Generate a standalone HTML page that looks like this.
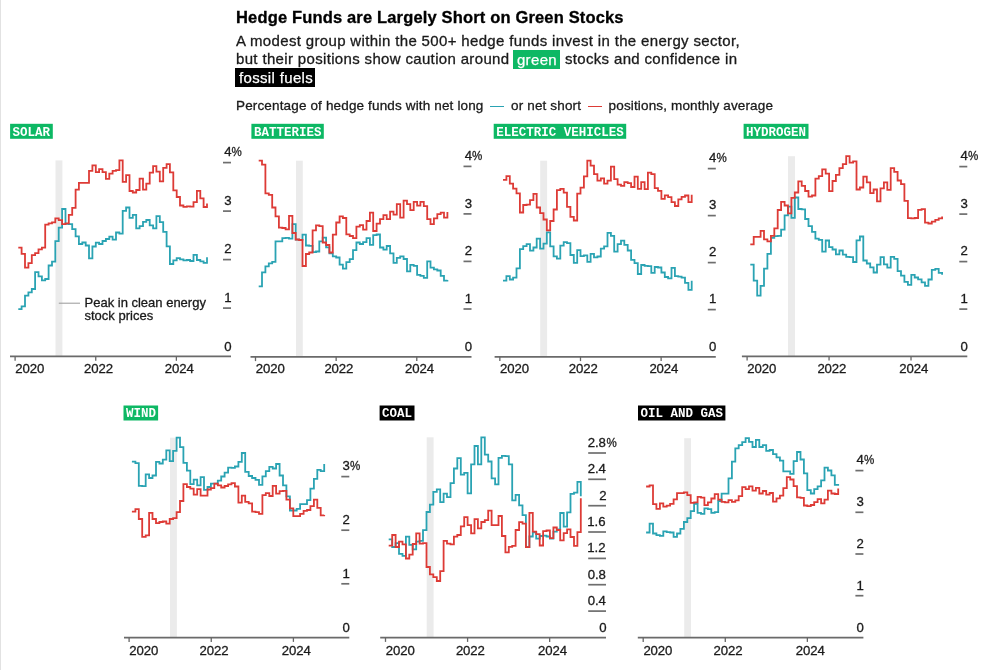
<!DOCTYPE html>
<html lang="en"><head><meta charset="utf-8"><title>Hedge Funds are Largely Short on Green Stocks</title>
<style>
html,body{margin:0;padding:0;background:#fff;}
body{width:986px;height:670px;overflow:hidden;position:relative;font-family:"Liberation Sans",sans-serif;color:#1a1a1a;}
#edge{position:absolute;left:0;top:0;width:1px;height:670px;background:#e2e2e2;}
h1{position:absolute;left:236px;top:6.8px;margin:0;font-size:16.5px;line-height:20px;font-weight:bold;letter-spacing:0.16px;-webkit-text-stroke:0.3px #000;white-space:nowrap;color:#000;}
.sub{position:absolute;left:236px;top:32px;margin:0;font-size:15px;line-height:18.3px;letter-spacing:0.34px;-webkit-text-stroke:0.3px #1a1a1a;white-space:nowrap;color:#1a1a1a;}
.sub .g{-webkit-text-stroke:0.25px #fff;background:#0DB864;color:#fff;padding:0.6px 3.4px 1.9px 3.6px;margin-left:-0.6px;}
.sub .k{-webkit-text-stroke:0.25px #fff;background:#000;color:#fff;padding:0.5px 2.2px 1.5px 4px;margin-left:-1px;}
.leg{position:absolute;left:236px;top:98px;margin:0;font-size:13.5px;line-height:16px;letter-spacing:0.15px;-webkit-text-stroke:0.3px #1a1a1a;white-space:nowrap;color:#1a1a1a;}
.leg i{display:inline-block;width:14.3px;height:0;border-top:1.6px solid;vertical-align:middle;margin:0 2.8px -0.5px 2.6px;}
svg{position:absolute;left:0;top:0;}
svg text{font-family:"Liberation Sans",sans-serif;fill:#1a1a1a;}
.xl,.yl{font-size:13.2px;letter-spacing:-0.1px;stroke:#1a1a1a;stroke-width:0.3px;}
.an{font-size:13px;stroke:#1a1a1a;stroke-width:0.3px;}
.tag{font-family:"Liberation Mono","DejaVu Sans Mono",monospace;font-weight:bold;font-size:12.5px;fill:#fff;}
</style></head><body>
<div id="edge"></div>
<h1>Hedge Funds are Largely Short on Green Stocks</h1>
<p class="sub">A modest group within the 500+ hedge funds invest in the energy sector,<br>but their positions show caution around <span class="g">green</span> stocks and confidence in<br><span class="k">fossil fuels</span></p>
<p class="leg">Percentage of hedge funds with net long <i style="border-color:#2AA3B3"></i> or net short <i style="border-color:#DD3B36"></i> positions, monthly average</p>
<svg width="986" height="670" viewBox="0 0 986 670">
<g>
<rect x="55.5" y="160.4" width="6.9" height="196" fill="#ebebeb"/>
<path d="M18.3,309.1H21.6V306.4H25V295.7H28.4V292.4H31.8V289H35.1V272.2H38.5V276.3H41.9V280.4H45.2V279H48.6V265.5H52V261.6H55.3V241.2H58.7V227.6H62.1V209H65.5V223.9H68.8V224.2H72.2V229.1H75.6V236.3H78.9V244H82.3V242.5H85.7V245.5H89V258.4H92.4V246.5H95.8V242.7H99.1V244H102.5V241H105.9V239H109.3V236.6H112.6V239.6H116V232.5H119.4V233.6H122.7V210.9H126.1V207.5H129.5V217.9H132.8V214.9H136.2V228.4H139.6V226.1H143V221.8H146.3V220H149.7V225.3H153.1V228.3H156.4V216.2H159.8V222.2H163.2V231.9H166.6V246.4H169.9V264H173.3V260.3H176.7V258.1H180V259.3H183.4V260.3H186.8V260H190.1V261H193.5V254.8H196.9V260H200.3V261.3H203.6V262.8H207V257.3" fill="none" stroke="#2AA3B3" stroke-width="1.8"/>
<path d="M18.3,247.6H21.6V253.9H25V267.6H28.4V263.1H31.8V255.1H35.1V253.1H38.5V249.4H41.9V247.6H45.2V224.6H48.6V223.4H52V222.4H55.3V218.4H58.7V220.1H62.1V224.2H65.5V223.4H68.8V214.9H72.2V207.9H75.6V189.6H78.9V182.8H82.3H85.7H89V170.9H92.4V165.4H95.8V172.1H99.1V169.1H102.5V172.1H105.9V178.9H109.3V173.6H112.6V170.9H116V170.1H119.4V160.4H122.7V181.8H126.1V175.1H129.5V191H132.8V192.5H136.2V190H139.6V178.7H143V189.6H146.3V183.6H149.7V172.7H153.1V166.1H156.4V171.6H159.8V181.3H163.2V167.9H166.6V164.2H169.9V172.3H173.3V190.3H176.7V197H180V205.5H183.4V206.9H186.8V206.3H190.1V206.6H193.5V202.1H196.9V190.9H200.3V198.4H203.6V207H207V203.6" fill="none" stroke="#DD3B36" stroke-width="1.8"/>
<path d="M10,356.45H231" stroke="#6a6a6a" stroke-width="1.8" fill="none"/>
<path d="M15.10,356.4V360.8" stroke="#666" stroke-width="1.3" fill="none"/>
<text x="15.3" y="372.8" class="xl">2020</text>
<path d="M95.74,356.4V360.8" stroke="#666" stroke-width="1.3" fill="none"/>
<text x="84" y="372.8" class="xl">2022</text>
<path d="M176.38,356.4V360.8" stroke="#666" stroke-width="1.3" fill="none"/>
<text x="164.7" y="372.8" class="xl">2024</text>
<path d="M223,162.60H231" stroke="#6e6e6e" stroke-width="1.7" fill="none"/>
<text x="231.4" y="156.4" class="yl" text-anchor="end">4</text><text x="231.6" y="156.4" class="yl" textLength="10.2" lengthAdjust="spacingAndGlyphs">%</text>
<path d="M223,211.10H231" stroke="#6e6e6e" stroke-width="1.7" fill="none"/>
<text x="231.4" y="204.9" class="yl" text-anchor="end">3</text>
<path d="M223,259.60H231" stroke="#6e6e6e" stroke-width="1.7" fill="none"/>
<text x="231.4" y="253.4" class="yl" text-anchor="end">2</text>
<path d="M223,308.10H231" stroke="#6e6e6e" stroke-width="1.7" fill="none"/>
<text x="231.4" y="301.9" class="yl" text-anchor="end">1</text>
<text x="231.4" y="350.6" class="yl" text-anchor="end">0</text>
<rect x="10.1" y="123.8" width="42.7" height="15" fill="#0DB864"/>
<text x="12.6" y="135.7" class="tag">SOLAR</text>
</g>
<g>
<rect x="296" y="160.7" width="6.8" height="196.1" fill="#ebebeb"/>
<path d="M258.7,286.4H262V272.4H265.4V266.4H268.8V263.4H272.2V261.9H275.5V241.3H278.9H282.3V238.1H285.6V237.8H289V238.7H292.4V224.2H295.7V239.7H299.1V239.9H302.5V234.6H305.9V245.5H309.2V245.8H312.6V252.1H316V251.5H319.3V241.3H322.7V237.6H326.1V247.3H329.4V253.3H332.8V256.3H336.2V257.5H339.6V264.7H342.9V268.7H346.3V262.2H349.7V259.2H353V250.1H356.4V242.5H359.8V244H363.1V242.2H366.5V238.1H369.9V244.9H373.2V235.1H376.6V234.5H380V247.5H383.4V249.7H386.7V246H390.1V253.4H393.5V262.8H396.8V257.9H400.2V256.4H403.6V259H407V271.3H410.3V264.8H413.7V265.8H417.1V274.8H420.4V275.8H423.8V277.8H427.2V261.3H430.5V267.6H433.9V269.4H437.3V270.5H440.7V275.8H444V280.7H447.4V280" fill="none" stroke="#2AA3B3" stroke-width="1.8"/>
<path d="M258.7,160.7H262V164.6H265.4V193.3H268.8V194.8H272.2V207.5H275.5V216.4H278.9V227.6H282.3V228H285.6V229.3H289V215.8H292.4V233H295.7V239.5H299.1V240H302.5V266H305.9V254H309.2V252.5H312.6V230.3H316V225.3H319.3V226.1H322.7V242.5H326.1V245H329.4V252.5H332.8V234.7H336.2V222.5H339.6V216.4H342.9V218H346.3V234.4H349.7V236H353V238.1H356.4V226.6H359.8V225.1H363.1V229.6H366.5V221H369.9V212.7H373.2V231H376.6V223.6H380V219.1H383.4V215.1H386.7V219.1H390.1V211.6H393.5V214.6H396.8V204.2H400.2V217.6H403.6V200.7H407V204.2H410.3V210.1H413.7V201.9H417.1V205.7H420.4V201.9H423.8V206.1H427.2V219.1H430.5V224.2H433.9V218.4H437.3V214.1H440.7V212.7H444V217.6H447.4V212.1" fill="none" stroke="#DD3B36" stroke-width="1.8"/>
<path d="M250.5,356.80H471.5" stroke="#6a6a6a" stroke-width="1.8" fill="none"/>
<path d="M255.50,356.8V361.1" stroke="#666" stroke-width="1.3" fill="none"/>
<text x="255.7" y="372.8" class="xl">2020</text>
<path d="M336.14,356.8V361.1" stroke="#666" stroke-width="1.3" fill="none"/>
<text x="324.4" y="372.8" class="xl">2022</text>
<path d="M416.78,356.8V361.1" stroke="#666" stroke-width="1.3" fill="none"/>
<text x="405.1" y="372.8" class="xl">2024</text>
<path d="M463.5,166.40H471.5" stroke="#6e6e6e" stroke-width="1.7" fill="none"/>
<text x="471.9" y="160.2" class="yl" text-anchor="end">4</text><text x="472.1" y="160.2" class="yl" textLength="10.2" lengthAdjust="spacingAndGlyphs">%</text>
<path d="M463.5,213.90H471.5" stroke="#6e6e6e" stroke-width="1.7" fill="none"/>
<text x="471.9" y="207.7" class="yl" text-anchor="end">3</text>
<path d="M463.5,261.40H471.5" stroke="#6e6e6e" stroke-width="1.7" fill="none"/>
<text x="471.9" y="255.2" class="yl" text-anchor="end">2</text>
<path d="M463.5,309.00H471.5" stroke="#6e6e6e" stroke-width="1.7" fill="none"/>
<text x="471.9" y="302.8" class="yl" text-anchor="end">1</text>
<text x="471.9" y="351" class="yl" text-anchor="end">0</text>
<rect x="251.4" y="123.8" width="72.4" height="15" fill="#0DB864"/>
<text x="253.9" y="135.7" class="tag">BATTERIES</text>
</g>
<g>
<rect x="540.2" y="160.7" width="6.9" height="196.1" fill="#ebebeb"/>
<path d="M503,280.7H506.4V276.2H509.8V279.5H513.1V277.7H516.5V268.4H519.9V249.1H523.2V246.1H526.6V244.1H530V250.6H533.4V247.5H536.7V238.7H540.1V248.6H543.5V243.6H546.8V232.3H550.2V246.3H553.6V256.4H556.9V258.6H560.3V245.6H563.7V242.2H567V243.2H570.4V255H573.8V262.8H577.2V250.2H580.5V256.1H583.9V255.3H587.3V261.8H590.6V253.9H594V257.3H597.4V256.5H600.8V248.6H604.1V246.3H607.5V232.9H610.9V235.9H614.2V251.6H617.6V244.1H621V240.7H624.3V244.9H627.7V250.5H631.1V259.8H634.5V263.1H637.8V274H641.2V265H644.6V265.8H647.9V266.2H651.3V272.9H654.7V267H658V267.5H661.4V272.5H664.8V277H668.1V278.3H671.5V267.8H674.9V276.1H678.3V276.6H681.6V277.6H685V282.8H688.4V289.8H691.7V280.8" fill="none" stroke="#2AA3B3" stroke-width="1.8"/>
<path d="M503,179.9H506.4V176.2H509.8V183.7H513.1V188.6H516.5V193.4H519.9V212.5H523.2V205H526.6V204.6H530V200.1H533.4V193.8H536.7V207.5H540.1V213.1H543.5V219.5H546.8V230.4H550.2V221H553.6V209.5H556.9V190.1H560.3V188.9H563.7V192.6H567V206.8H570.4V216.9H573.8V220.5H577.2V193.7H580.5V187.7H583.9V176.4H587.3V160.7H590.6V165.7H594V174.2H597.4V180.6H600.8V178.4H604.1V183.6H607.5V180.6H610.9V166.7H614.2V179.1H617.6V184.6H621V185.8H624.3V182.1H627.7V183.1H631.1V187H634.5V176.6H637.8V188.8H641.2V182.1H644.6V189.1H647.9V172.7H651.3V174.2H654.7V188.1H658V190.8H661.4V198.8H664.8V195.3H668.1V197.2H671.5V202.2H674.9V206H678.3V199.4H681.6V196.8H685V195.5H688.4V202.2H691.7V194.8" fill="none" stroke="#DD3B36" stroke-width="1.8"/>
<path d="M494.6,356.80H715.8" stroke="#6a6a6a" stroke-width="1.8" fill="none"/>
<path d="M499.85,356.8V361.1" stroke="#666" stroke-width="1.3" fill="none"/>
<text x="500" y="372.8" class="xl">2020</text>
<path d="M580.49,356.8V361.1" stroke="#666" stroke-width="1.3" fill="none"/>
<text x="568.8" y="372.8" class="xl">2022</text>
<path d="M661.13,356.8V361.1" stroke="#666" stroke-width="1.3" fill="none"/>
<text x="649.4" y="372.8" class="xl">2024</text>
<path d="M707.8,168.60H715.8" stroke="#6e6e6e" stroke-width="1.7" fill="none"/>
<text x="716.2" y="162.4" class="yl" text-anchor="end">4</text><text x="716.4" y="162.4" class="yl" textLength="10.2" lengthAdjust="spacingAndGlyphs">%</text>
<path d="M707.8,215.60H715.8" stroke="#6e6e6e" stroke-width="1.7" fill="none"/>
<text x="716.2" y="209.4" class="yl" text-anchor="end">3</text>
<path d="M707.8,262.60H715.8" stroke="#6e6e6e" stroke-width="1.7" fill="none"/>
<text x="716.2" y="256.4" class="yl" text-anchor="end">2</text>
<path d="M707.8,309.60H715.8" stroke="#6e6e6e" stroke-width="1.7" fill="none"/>
<text x="716.2" y="303.4" class="yl" text-anchor="end">1</text>
<text x="716.2" y="351" class="yl" text-anchor="end">0</text>
<rect x="493.7" y="123.8" width="132.5" height="15" fill="#0DB864"/>
<text x="496.2" y="135.7" class="tag">ELECTRIC VEHICLES</text>
</g>
<g>
<rect x="788" y="156.2" width="7" height="200.1" fill="#ebebeb"/>
<path d="M750.3,264.6H753.7V280.7H757.2V295.6H760.6V285.9H764V268.7H767.4V253.8H770.9V237.9H774.3V236.2H777.7V235.8H781.1V229.7H784.6V215.3H788V206.7H791.4V217.9H794.8V197.5H798.3V209H801.7V209.4H805.1V219H808.5V226.1H812V231.8H815.4V238.7H818.8V239.8H822.2V251.6H825.7V240.5H829.1V247.1H832.5V249.5H835.9V254.4H839.4V250.5H842.8V254.6H846.2V256.9H849.6V257.2H853.1V262H856.5V240.4H859.9V236.5H863.3V260.5H866.8V263.5H870.2V267.4H873.6V272.5H877V264.7H880.5V257.2H883.9V264.4H887.3V267.7H890.7V256.9H894.2V258.8H897.6V271.1H901V275.6H904.4V281.8H907.9V284.8H911.3V274.8H914.7V277.5H918.1V279.3H921.6V282.4H925V285.9H928.4V279.5H931.8V269.9H935.3V268.8H938.7V272.8H942.1V274.8" fill="none" stroke="#2AA3B3" stroke-width="1.8"/>
<path d="M750.3,244.4H753.7V236.9H757.2H760.6V230.9H764V239.3H767.4V241.3H770.9V235.8H774.3V228.4H777.7V210H781.1V201.9H784.6V205.5H788V213.4H791.4V197.8H794.8V192.5H798.3V181.3H801.7V185.8H805.1V191H808.5V196.6H812V195.5H815.4V178.7H818.8V176.1H822.2V169.4H825.7V173.6H829.1V191.1H832.5V181H835.9V174.8H839.4V168.1H842.8V164.1H846.2V156.2H849.6V162.6H853.1V161.4H856.5V189.5H859.9V187.5H863.3V176.6H866.8V182.3H870.2V193.1H873.6V189.5H877V201.4H880.5V188.3H883.9V182.3H887.3V189.8H890.7V168.1H894.2V171.9H897.6V180.5H901V184.1H904.4V200.8H907.9V218.1H911.3V218.4H914.7V218H918.1V209.8H921.6V209.1H925V222.6H928.4V223.5H931.8V221.6H935.3V219.9H938.7V218.4H942.1V216.6" fill="none" stroke="#DD3B36" stroke-width="1.8"/>
<path d="M741.9,356.30H967.3" stroke="#6a6a6a" stroke-width="1.8" fill="none"/>
<path d="M747.10,356.3V360.6" stroke="#666" stroke-width="1.3" fill="none"/>
<text x="747.3" y="372.8" class="xl">2020</text>
<path d="M829.06,356.3V360.6" stroke="#666" stroke-width="1.3" fill="none"/>
<text x="817.4" y="372.8" class="xl">2022</text>
<path d="M911.02,356.3V360.6" stroke="#666" stroke-width="1.3" fill="none"/>
<text x="899.3" y="372.8" class="xl">2024</text>
<path d="M959.3,166.60H967.3" stroke="#6e6e6e" stroke-width="1.7" fill="none"/>
<text x="967.7" y="160.4" class="yl" text-anchor="end">4</text><text x="967.9" y="160.4" class="yl" textLength="10.2" lengthAdjust="spacingAndGlyphs">%</text>
<path d="M959.3,214.10H967.3" stroke="#6e6e6e" stroke-width="1.7" fill="none"/>
<text x="967.7" y="207.9" class="yl" text-anchor="end">3</text>
<path d="M959.3,261.60H967.3" stroke="#6e6e6e" stroke-width="1.7" fill="none"/>
<text x="967.7" y="255.4" class="yl" text-anchor="end">2</text>
<path d="M959.3,309.10H967.3" stroke="#6e6e6e" stroke-width="1.7" fill="none"/>
<text x="967.7" y="302.9" class="yl" text-anchor="end">1</text>
<text x="967.7" y="350.5" class="yl" text-anchor="end">0</text>
<rect x="743.6" y="123.8" width="64.9" height="15" fill="#0DB864"/>
<text x="746.1" y="135.7" class="tag">HYDROGEN</text>
</g>
<g>
<rect x="170" y="437.7" width="6.9" height="199.9" fill="#ebebeb"/>
<path d="M131.9,461.6H135.4V463.2H138.8V485.9H142.2V486.2H145.7V474.4H149.1V478H152.5V475.5H156V461.9H159.4V463.5H162.8V459.6H166.3V450.4H169.7V461.2H173.1V450.9H176.6V437.7H180V447.1H183.4V462.9H186.9V470.6H190.3V484.2H193.7V479.6H197.2V485.4H200.6V477.2H204V489.8H207.5V487H210.9V483.7H214.3H217.8V480.6H221.2V476.5H224.6V472.7H228.1V467.6H231.5V467.8H234.9V466.5H238.4V461.9H241.8V453H245.2V471.9H248.7V476H252.1V478H255.5V479.9H259V484.9H262.4V476.3H265.8V471.1H269.3V466.8H272.7V468.5H276.1V464H279.6V475.5H283V485.4H286.4V496.4H289.9V510.5H293.3H296.7V508.8H300.1V504.2H303.6H307V500.1H310.4V488.7H313.9V478.8H317.3V469.8H320.7V471.1H324.2V464" fill="none" stroke="#2AA3B3" stroke-width="1.8"/>
<path d="M131.9,511.6H135.4V509.2H138.8V519H142.2V536.8H145.7V535.4H149.1V512.8H152.5V519H156V523.1H159.4V522H162.8V521.5H166.3V523.6H169.7V519H173.1V518.2H176.6V512.1H180V501H183.4V484.2H186.9V487H190.3V488.7H193.7V494.7H197.2V489.1H200.6V495.7H204H207.5V489.5H210.9V488.2H214.3V483.7H217.8V485.4H221.2V487.5H224.6V486H228.1V484.3H231.5V483.2H234.9V486.5H238.4V502.6H241.8V495.7H245.2V501.8H248.7V503.4H252.1V511.6H255.5V512.1H259V513.8H262.4V495.2H265.8V493.1H269.3V496H272.7V485.9H276.1V493.6H279.6V491.1H283V490.8H286.4V499.7H289.9V508.4H293.3V516.1H296.7H300.1V513.8H303.6V510.8H307V510H310.4V506.2H313.9V499.7H317.3V507.9H320.7V515.4H324.2V514.9" fill="none" stroke="#DD3B36" stroke-width="1.8"/>
<path d="M124,637.65H349.3" stroke="#6a6a6a" stroke-width="1.8" fill="none"/>
<path d="M129.10,637.6V641.9" stroke="#666" stroke-width="1.3" fill="none"/>
<text x="129.3" y="654.8" class="xl">2020</text>
<path d="M211.25,637.6V641.9" stroke="#666" stroke-width="1.3" fill="none"/>
<text x="199.6" y="654.8" class="xl">2022</text>
<path d="M293.40,637.6V641.9" stroke="#666" stroke-width="1.3" fill="none"/>
<text x="281.7" y="654.8" class="xl">2024</text>
<path d="M341.3,476.60H349.3" stroke="#6e6e6e" stroke-width="1.7" fill="none"/>
<text x="349.7" y="470.4" class="yl" text-anchor="end">3</text><text x="349.9" y="470.4" class="yl" textLength="10.2" lengthAdjust="spacingAndGlyphs">%</text>
<path d="M341.3,530.20H349.3" stroke="#6e6e6e" stroke-width="1.7" fill="none"/>
<text x="349.7" y="524" class="yl" text-anchor="end">2</text>
<path d="M341.3,583.80H349.3" stroke="#6e6e6e" stroke-width="1.7" fill="none"/>
<text x="349.7" y="577.6" class="yl" text-anchor="end">1</text>
<text x="349.7" y="631.8" class="yl" text-anchor="end">0</text>
<rect x="123.5" y="405.5" width="34.6" height="15" fill="#0DB864"/>
<text x="126" y="417.4" class="tag">WIND</text>
</g>
<g>
<rect x="426.7" y="437.3" width="6.9" height="200.3" fill="#ebebeb"/>
<path d="M388.7,539.4H392.2V547H395.6V543.2H399V553.9H402.5V555.9H405.9V536.7H409.3V544.9H412.7V549.3H416.2V541.6H419.6V540.8H423V530.1H426.5V512H429.9V504.6H433.3V491.9H436.8V489.4H440.2V502.2H443.6V493.6H447V497.2H450.5V483.2H453.9V468.5H457.3V458.2H460.8V474.6H464.2V472.9H467.6V493.3H471.1V464.4H474.5V446H477.9V464.4H481.3V437.3H484.8V454.7H488.2V461.5H491.6V478.4H495.1V484.4H498.5V457.8H501.9V455.9H505.4V456.2H508.8V464.4H512.2V500.4H515.6V494.9H519.1V505.4H522.5V515.1H525.9V547.2H529.4V536.5H532.8V532.4H536.2V538.6H539.7V536H543.1V535.7H546.5V536.5H549.9V538.6H553.4V531.6H556.8V529.4H560.2V513H563.7V526.7H567.1V512.4H570.5V493.8H574V492.7H577.4V481.8H580.8V496.3" fill="none" stroke="#2AA3B3" stroke-width="1.8"/>
<path d="M388.7,545.7H392.2V535H395.6V547H399V541.6H402.5V544.4H405.9V558.5H409.3V554.7H412.7V544H416.2V533.4H419.6V543.7H423V543.2H426.5V567H429.9V574.4H433.3V577.2H436.8V581H440.2V571.1H443.6V540.8H447V543.7H450.5V544.4H453.9V536.7H457.3V535H460.8V526.3H464.2V517.2H467.6V525.2H471.1V533.4H474.5V519.1H477.9V528.4H481.3V522H484.8V520.1H488.2V510.7H491.6V525.1H495.1H498.5V516H501.9V536H505.4V552.4H508.8V546.8H512.2V545.9H515.6V530H519.1V522.2H522.5V523.7H525.9V547.2H529.4V512.9H532.8V531.6H536.2V534.1H539.7V545.5H543.1V531.1H546.5V530.5H549.9V538.1H553.4V527.5H556.8V530H560.2V540.3H563.7V533.2H567.1V529.4H570.5V537H574V545.9H577.4V532.1H580.8V498.2" fill="none" stroke="#DD3B36" stroke-width="1.8"/>
<path d="M380.2,637.65H606" stroke="#6a6a6a" stroke-width="1.8" fill="none"/>
<path d="M385.50,637.6V641.9" stroke="#666" stroke-width="1.3" fill="none"/>
<text x="385.7" y="654.8" class="xl">2020</text>
<path d="M467.58,637.6V641.9" stroke="#666" stroke-width="1.3" fill="none"/>
<text x="455.9" y="654.8" class="xl">2022</text>
<path d="M549.66,637.6V641.9" stroke="#666" stroke-width="1.3" fill="none"/>
<text x="538" y="654.8" class="xl">2024</text>
<path d="M588.2,453.00H606" stroke="#6e6e6e" stroke-width="1.7" fill="none"/>
<text x="605.8" y="446.8" class="yl" text-anchor="end" letter-spacing="-0.6">2.8</text><text x="606.6" y="446.8" class="yl" textLength="10.2" lengthAdjust="spacingAndGlyphs">%</text>
<path d="M588.2,479.30H606" stroke="#6e6e6e" stroke-width="1.7" fill="none"/>
<text x="605.8" y="473.1" class="yl" text-anchor="end" letter-spacing="-0.6">2.4</text>
<path d="M588.2,505.70H606" stroke="#6e6e6e" stroke-width="1.7" fill="none"/>
<text x="606.4" y="499.5" class="yl" text-anchor="end">2</text>
<path d="M588.2,532.00H606" stroke="#6e6e6e" stroke-width="1.7" fill="none"/>
<text x="605.4" y="525.8" class="yl" text-anchor="end" letter-spacing="-1.0">1.6</text>
<path d="M588.2,558.40H606" stroke="#6e6e6e" stroke-width="1.7" fill="none"/>
<text x="605.4" y="552.2" class="yl" text-anchor="end" letter-spacing="-1.0">1.2</text>
<path d="M588.2,584.70H606" stroke="#6e6e6e" stroke-width="1.7" fill="none"/>
<text x="605.8" y="578.5" class="yl" text-anchor="end" letter-spacing="-0.6">0.8</text>
<path d="M588.2,611.10H606" stroke="#6e6e6e" stroke-width="1.7" fill="none"/>
<text x="605.8" y="604.9" class="yl" text-anchor="end" letter-spacing="-0.6">0.4</text>
<text x="606.4" y="631.8" class="yl" text-anchor="end">0</text>
<rect x="379.6" y="405.5" width="34.9" height="15" fill="#000"/>
<text x="382.1" y="417.4" class="tag">COAL</text>
</g>
<g>
<rect x="684.2" y="438.2" width="6.8" height="199.4" fill="#ebebeb"/>
<path d="M646.1,532.5H649.6V523.6H653V533.5H656.4V535.1H659.9V535.8H663.3V531.3H666.7V532.2H670.1V532.5H673.6V536.8H677V533.5H680.4V528.9H683.9V522H687.3V518.2H690.7V511.1H694.1V503.9H697.6V512.8H701V513.8H704.4V508.4H707.9V509.2H711.3V512.8H714.7V512.1H718.2V501H721.6V493.6H725H728.5V478.3H731.9V461.7H735.3V448.3H738.7V445.1H742.2V442.1H745.6V438.2H749V441.8H752.5V447H755.9V439.8H759.3V447H762.8V445.1H766.2V450.8H769.6V450H773V454.1H776.5V457.4H779.9V460.7H783.3V471.3H786.8H790.2V473.8H793.6V461.2H797V452H800.5V459.5H803.9V473.3H807.3V490.2H810.8V493.5H814.2V489.1H817.6V486.4H821.1V480.4H824.5V467.7H827.9V470.5H831.4V475.4H834.8V484.8H838.2V485.8" fill="none" stroke="#2AA3B3" stroke-width="1.8"/>
<path d="M646.1,486.5H649.6V485.4H653V504.2H656.4V508.8H659.9V503.4H663.3V506.7H666.7V505.6H670.1V503.9H673.6V499.3H677V493.1H680.4H683.9V492.4H687.3V495.2H690.7V502.9H694.1V502.3H697.6V496.9H701V497.7H704.4V505.1H707.9V502.3H711.3V498.5H714.7V494.1H718.2V499.7H721.6V501.8H725V502.3H728.5V500.1H731.9V501.8H735.3V500.4H738.7V496.2H742.2V487.2H745.6V489.1H749V486.4H752.5V490.7H755.9V487.8H759.3V493.5H762.8V491H766.2V494.7H769.6V493H773V501.7H776.5V498.4H779.9V495.6H783.3V488.1H786.8V477.1H790.2V479.5H793.6V486.1H797V497.3H800.5V497.9H803.9V505.5H807.3V506.1H810.8V505H814.2V502.2H817.6V499.2H821.1V503.4H824.5V499.6H827.9V490.7H831.4V493.5H834.8V494H838.2V488.6" fill="none" stroke="#DD3B36" stroke-width="1.8"/>
<path d="M637.8,637.65H863.4" stroke="#6a6a6a" stroke-width="1.8" fill="none"/>
<path d="M643.20,637.6V641.9" stroke="#666" stroke-width="1.3" fill="none"/>
<text x="643.4" y="654.8" class="xl">2020</text>
<path d="M725.28,637.6V641.9" stroke="#666" stroke-width="1.3" fill="none"/>
<text x="713.6" y="654.8" class="xl">2022</text>
<path d="M807.36,637.6V641.9" stroke="#666" stroke-width="1.3" fill="none"/>
<text x="795.7" y="654.8" class="xl">2024</text>
<path d="M855.4,470.60H863.4" stroke="#6e6e6e" stroke-width="1.7" fill="none"/>
<text x="863.8" y="464.4" class="yl" text-anchor="end">4</text><text x="864" y="464.4" class="yl" textLength="10.2" lengthAdjust="spacingAndGlyphs">%</text>
<path d="M855.4,512.30H863.4" stroke="#6e6e6e" stroke-width="1.7" fill="none"/>
<text x="863.8" y="506.1" class="yl" text-anchor="end">3</text>
<path d="M855.4,554.00H863.4" stroke="#6e6e6e" stroke-width="1.7" fill="none"/>
<text x="863.8" y="547.8" class="yl" text-anchor="end">2</text>
<path d="M855.4,595.70H863.4" stroke="#6e6e6e" stroke-width="1.7" fill="none"/>
<text x="863.8" y="589.5" class="yl" text-anchor="end">1</text>
<text x="863.8" y="631.8" class="yl" text-anchor="end">0</text>
<rect x="638" y="405.5" width="87.4" height="15" fill="#000"/>
<text x="640.5" y="417.4" class="tag">OIL AND GAS</text>
</g>
<path d="M58.8,303.2H80" stroke="#999" stroke-width="1" fill="none"/>
<text x="84.5" y="306.9" class="an">Peak in clean energy</text>
<text x="84.5" y="319.5" class="an">stock prices</text>
</svg>
</body></html>
